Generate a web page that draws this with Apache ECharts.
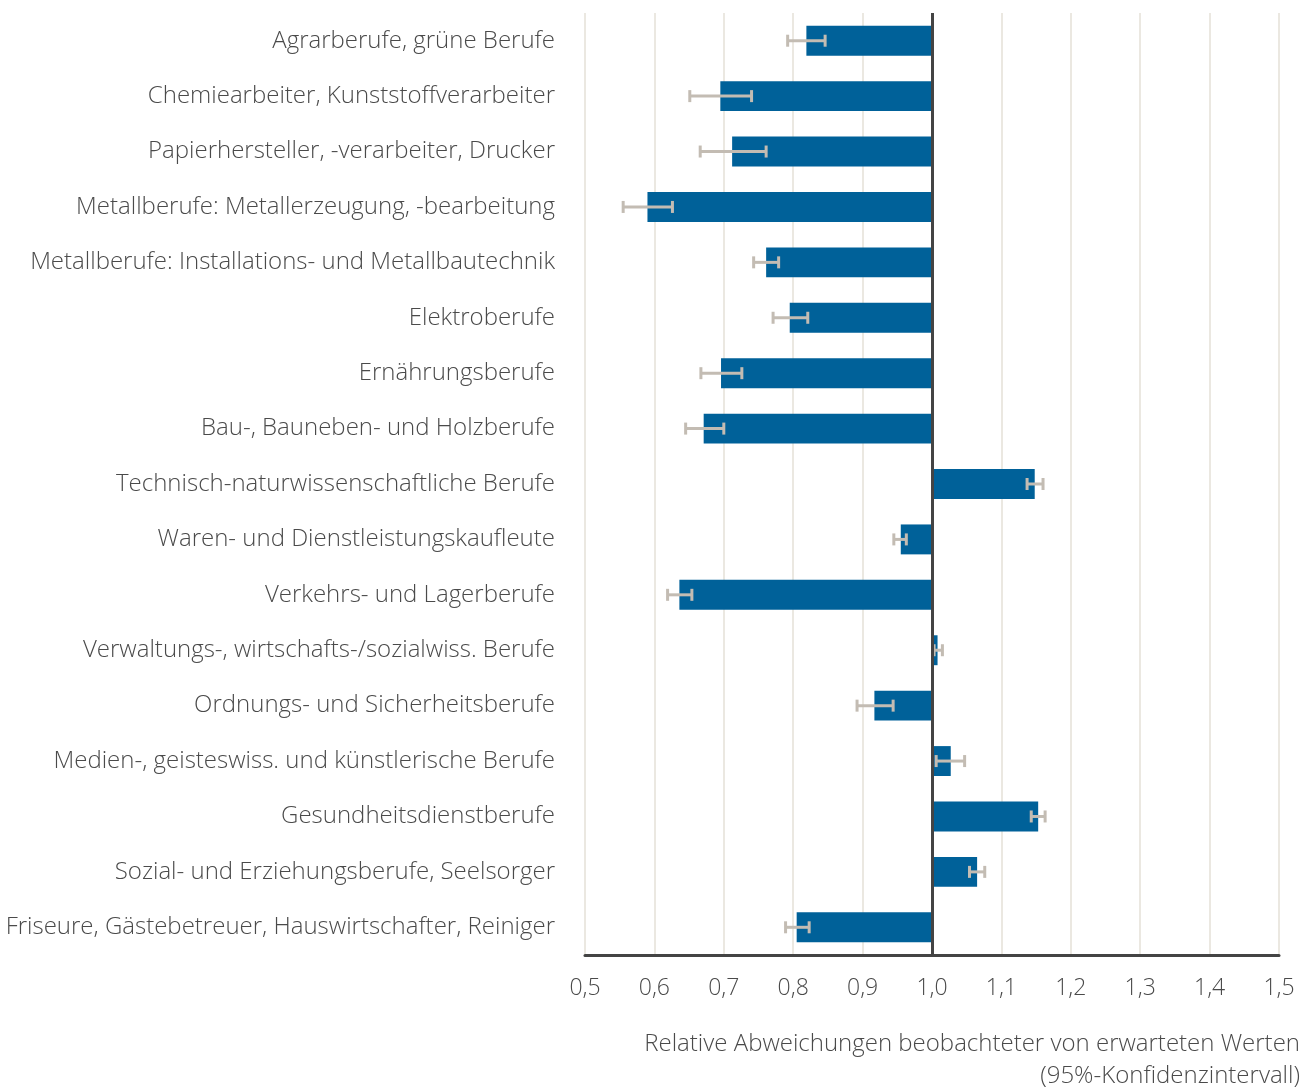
<!DOCTYPE html>
<html>
<head>
<meta charset="utf-8">
<script src="https://cdn.jsdelivr.net/npm/echarts@6/dist/echarts.min.js"></script>
<style>
    html, body { margin: 0; padding: 0; background: #fff; }
    #chart { width: 1309px; height: 1088px; }
</style>
</head>
<body>
<div id="chart"></div>
<script>
// Berufsgruppen (von oben nach unten)
const categories = [
    'Agrarberufe, grüne Berufe',
    'Chemiearbeiter, Kunststoffverarbeiter',
    'Papierhersteller, -verarbeiter, Drucker',
    'Metallberufe: Metallerzeugung, -bearbeitung',
    'Metallberufe: Installations- und Metallbautechnik',
    'Elektroberufe',
    'Ernährungsberufe',
    'Bau-, Bauneben- und Holzberufe',
    'Technisch-naturwissenschaftliche Berufe',
    'Waren- und Dienstleistungskaufleute',
    'Verkehrs- und Lagerberufe',
    'Verwaltungs-, wirtschafts-/sozialwiss. Berufe',
    'Ordnungs- und Sicherheitsberufe',
    'Medien-, geisteswiss. und künstlerische Berufe',
    'Gesundheitsdienstberufe',
    'Sozial- und Erziehungsberufe, Seelsorger',
    'Friseure, Gästebetreuer, Hauswirtschafter, Reiniger'
]
// relative Abweichung (beobachtet / erwartet)
const ratio = [0.819, 0.695, 0.712, 0.590, 0.761, 0.795, 0.696, 0.671, 1.148, 0.955, 0.636, 1.008, 0.917, 1.027, 1.153, 1.065, 0.805]
// 95%-Konfidenzintervall
const ciLow = [0.792, 0.651, 0.666, 0.555, 0.743, 0.771, 0.667, 0.645, 1.137, 0.945, 0.619, 1.003, 0.892, 1.006, 1.143, 1.054, 0.789]
const ciHigh = [0.846, 0.740, 0.761, 0.626, 0.779, 0.821, 0.726, 0.700, 1.160, 0.963, 0.654, 1.015, 0.944, 1.047, 1.163, 1.076, 0.823]
// Basislinie
const baseline = 1.0

const font = 'Open Sans'
const textColor = '#4a4a4a'

const chart = echarts.init(document.getElementById('chart'))

const option = {
    animation: false,
    backgroundColor: '#fff',
    grid: {
        left: 585,
        right: 30,
        top: 13,
        bottom: 133
    },
    xAxis: {
        type: 'value',
        min: 0.5,
        max: 1.5,
        interval: 0.1,
        axisLine: {
            show: true,
            lineStyle: { color: '#444', width: 3 }
        },
        axisTick: { show: false },
        axisLabel: {
            margin: 22,
            color: textColor,
            fontFamily: font,
            fontWeight: 300,
            fontSize: 23,
            // Dezimalkomma
            formatter: v => v.toFixed(1).replace('.', ',')
        },
        splitLine: {
            show: true,
            lineStyle: { color: '#ebe8e1', width: 2 }
        }
    },
    yAxis: {
        type: 'category',
        inverse: true,
        data: categories,
        axisLine: { show: false },
        axisTick: { show: false },
        axisLabel: {
            margin: 30,
            color: textColor,
            fontFamily: font,
            fontWeight: 300,
            fontSize: 24
        }
    },
    series: [
        {
            // Balken ab 1,0
            type: 'custom',
            data: ratio.map((v, i) => [i, v]),
            encode: { x: 1, y: 0 },
            renderItem: function (params, api) {
                const idx = api.value(0)
                const a = api.coord([baseline, idx])
                const b = api.coord([api.value(1), idx])
                const h = api.size([0, 1])[1] * 0.54
                const x = Math.min(a[0], b[0])
                return {
                    type: 'rect',
                    shape: { x: x, y: a[1] - h / 2, width: Math.abs(b[0] - a[0]), height: h },
                    style: { fill: '#006199' }
                }
            },
            markLine: {
                silent: true,
                symbol: 'none',
                label: { show: false },
                lineStyle: { color: '#444', width: 3, type: 'solid' },
                data: [{ xAxis: baseline }]
            },
            z: 2
        },
        {
            // Fehlerbalken
            type: 'custom',
            data: ciLow.map((v, i) => [i, v, ciHigh[i]]),
            encode: { x: [1, 2], y: 0 },
            renderItem: function (params, api) {
                const idx = api.value(0)
                const lo = api.coord([api.value(1), idx])
                const hi = api.coord([api.value(2), idx])
                const cap = 6
                const style = { stroke: '#c3bcb3', lineWidth: 3 }
                return {
                    type: 'group',
                    children: [
                        { type: 'line', shape: { x1: lo[0], y1: lo[1], x2: hi[0], y2: hi[1] }, style: style },
                        { type: 'line', shape: { x1: lo[0], y1: lo[1] - cap, x2: lo[0], y2: lo[1] + cap }, style: style },
                        { type: 'line', shape: { x1: hi[0], y1: hi[1] - cap, x2: hi[0], y2: hi[1] + cap }, style: style }
                    ]
                }
            },
            z: 3
        }
    ],
    graphic: [
        {
            type: 'text',
            x: 1300,
            y: 1028,
            style: {
                text: 'Relative Abweichungen beobachteter von erwarteten Werten\n(95%-Konfidenzintervall)',
                align: 'right',
                fill: textColor,
                font: '300 24px "Open Sans"',
                lineHeight: 32
            }
        }
    ]
}
chart.setOption(option)
window.addEventListener('resize', () => {
    chart.resize()
})
</script>
</body>
</html>
